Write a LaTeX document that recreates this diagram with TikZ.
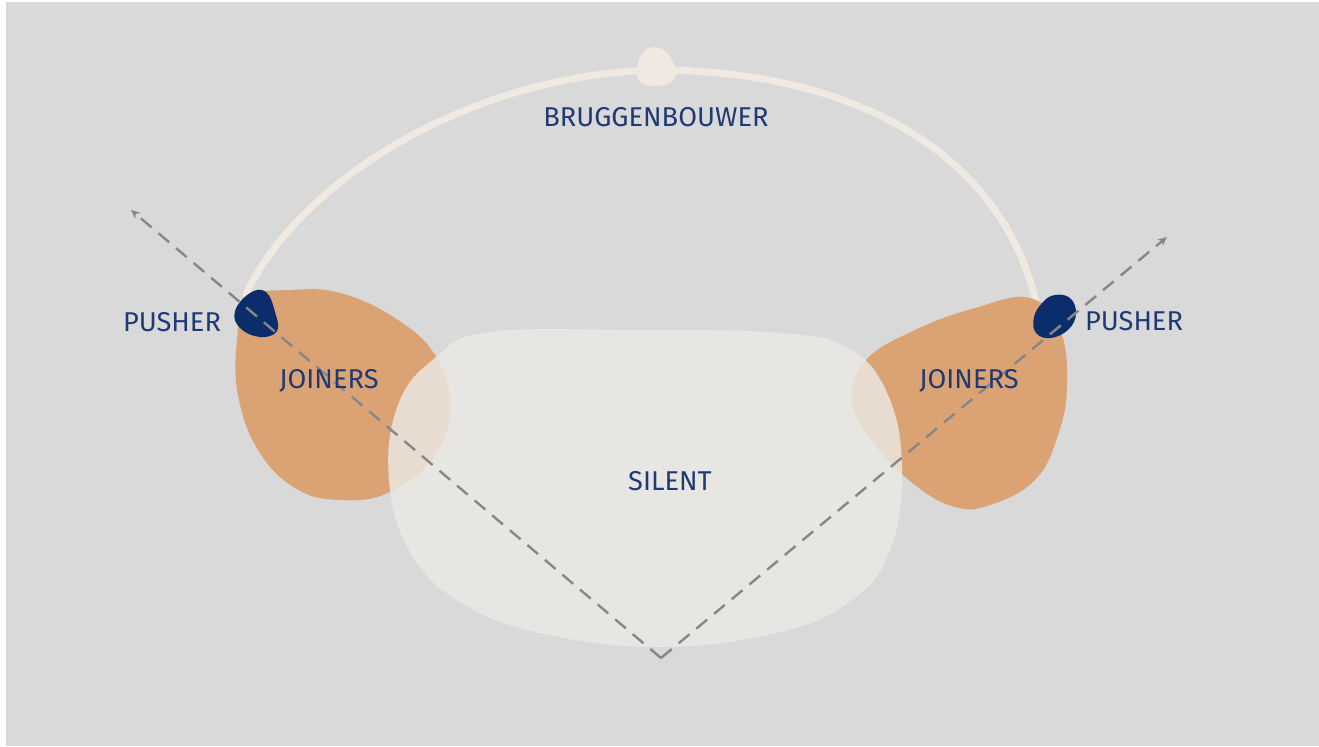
\documentclass[tikz,border=0pt]{standalone}
\usepackage{fontspec}
\setmainfont{Fira Sans}
\usetikzlibrary{arrows.meta}
\definecolor{bggrey}{HTML}{D9D9D9}
\definecolor{navytext}{HTML}{1F3A72}
\definecolor{pushblue}{HTML}{0C2D6C}
\definecolor{joinorange}{HTML}{DBA374}
\definecolor{silentwhite}{HTML}{ECEAE6}
\definecolor{archcream}{HTML}{EFE9E1}
\definecolor{dashgrey}{HTML}{878787}

\begin{document}
\begin{tikzpicture}[x=0.5pt,y=-0.5pt,
    lbl/.style={text=navytext,font=\fontsize{13.6}{16}\selectfont,inner sep=0pt},
    axisline/.style={dashgrey,line width=1.2pt,dash pattern=on 7pt off 4.5pt,-{Stealth[length=4.5pt,width=4pt]}},
    blob/.style={smooth cycle,tension=0.7}]
     \fill [white] (0,0) rectangle (1319,746);                                   % white margin
     \fill [bggrey] (6,2) rectangle (1319,746);                                  % grey field
     \useasboundingbox (0,0) rectangle (1319,746);
     \coordinate (archL) at (246,294);
     \coordinate (archT) at (655,70);
     \coordinate (archR) at (1036,302);
     \draw [archcream,line width=3.5pt,line cap=round] (archL) .. controls (300,180) and (470,75) .. (archT)
           .. controls (850,70) and (1000,150) .. (archR);                      % bridge arch
     \fill [archcream] plot[blob] coordinates {(637,72) (641,55) (653,47) (667,53) (676,70) (671,82) (655,86) (641,82)};
     \fill [joinorange] plot[blob] coordinates {(247,298) (290,290) (340,293) (395,318) (435,355) (450,405)
           (435,455) (390,492) (340,500) (295,488) (258,450) (238,395) (237,340)};    % left joiners
     \fill [joinorange] plot[blob] coordinates {(1030,298) (1060,330) (1067,385) (1058,435) (1035,480) (990,505)
           (955,507) (915,485) (875,445) (852,400) (866,360) (915,330) (975,308)};    % right joiners
     \fill [silentwhite,opacity=0.8] plot[blob] coordinates {(490,332) (640,330) (780,333) (848,348) (888,395)
           (902,470) (890,550) (852,600) (780,632) (660,647) (540,633) (460,602) (410,552) (389,480)
           (398,405) (435,358)};                                                  % silent
     \fill [pushblue] plot[blob] coordinates {(250,293) (266,292) (275,312) (277,331) (260,337) (240,328) (235,311)};
     \fill [pushblue] plot[blob] coordinates {(1055,295) (1070,298) (1076,313) (1069,329) (1051,338) (1036,333) (1034,317) (1043,302)};
     \coordinate (vertex) at (661,658);
     \coordinate (tipL) at (131,210);
     \coordinate (tipR) at (1167,237);
     \draw [axisline] (vertex) -- (tipL);                                         % dashed axes
     \draw [axisline] (vertex) -- (tipR);
     \node [lbl] (bridge) at (656,117) {BRUGGENBOUWER};
     \node [lbl] (pushL) at (172,322) {PUSHER};
     \node [lbl] (pushR) at (1134,321) {PUSHER};
     \node [lbl] (joinL) at (329,381) {JOINERS};
     \node [lbl] (joinR) at (969,381) {JOINERS};
     \node [lbl] (silent) at (670,481) {SILENT};
  \end{tikzpicture}
\end{document}
